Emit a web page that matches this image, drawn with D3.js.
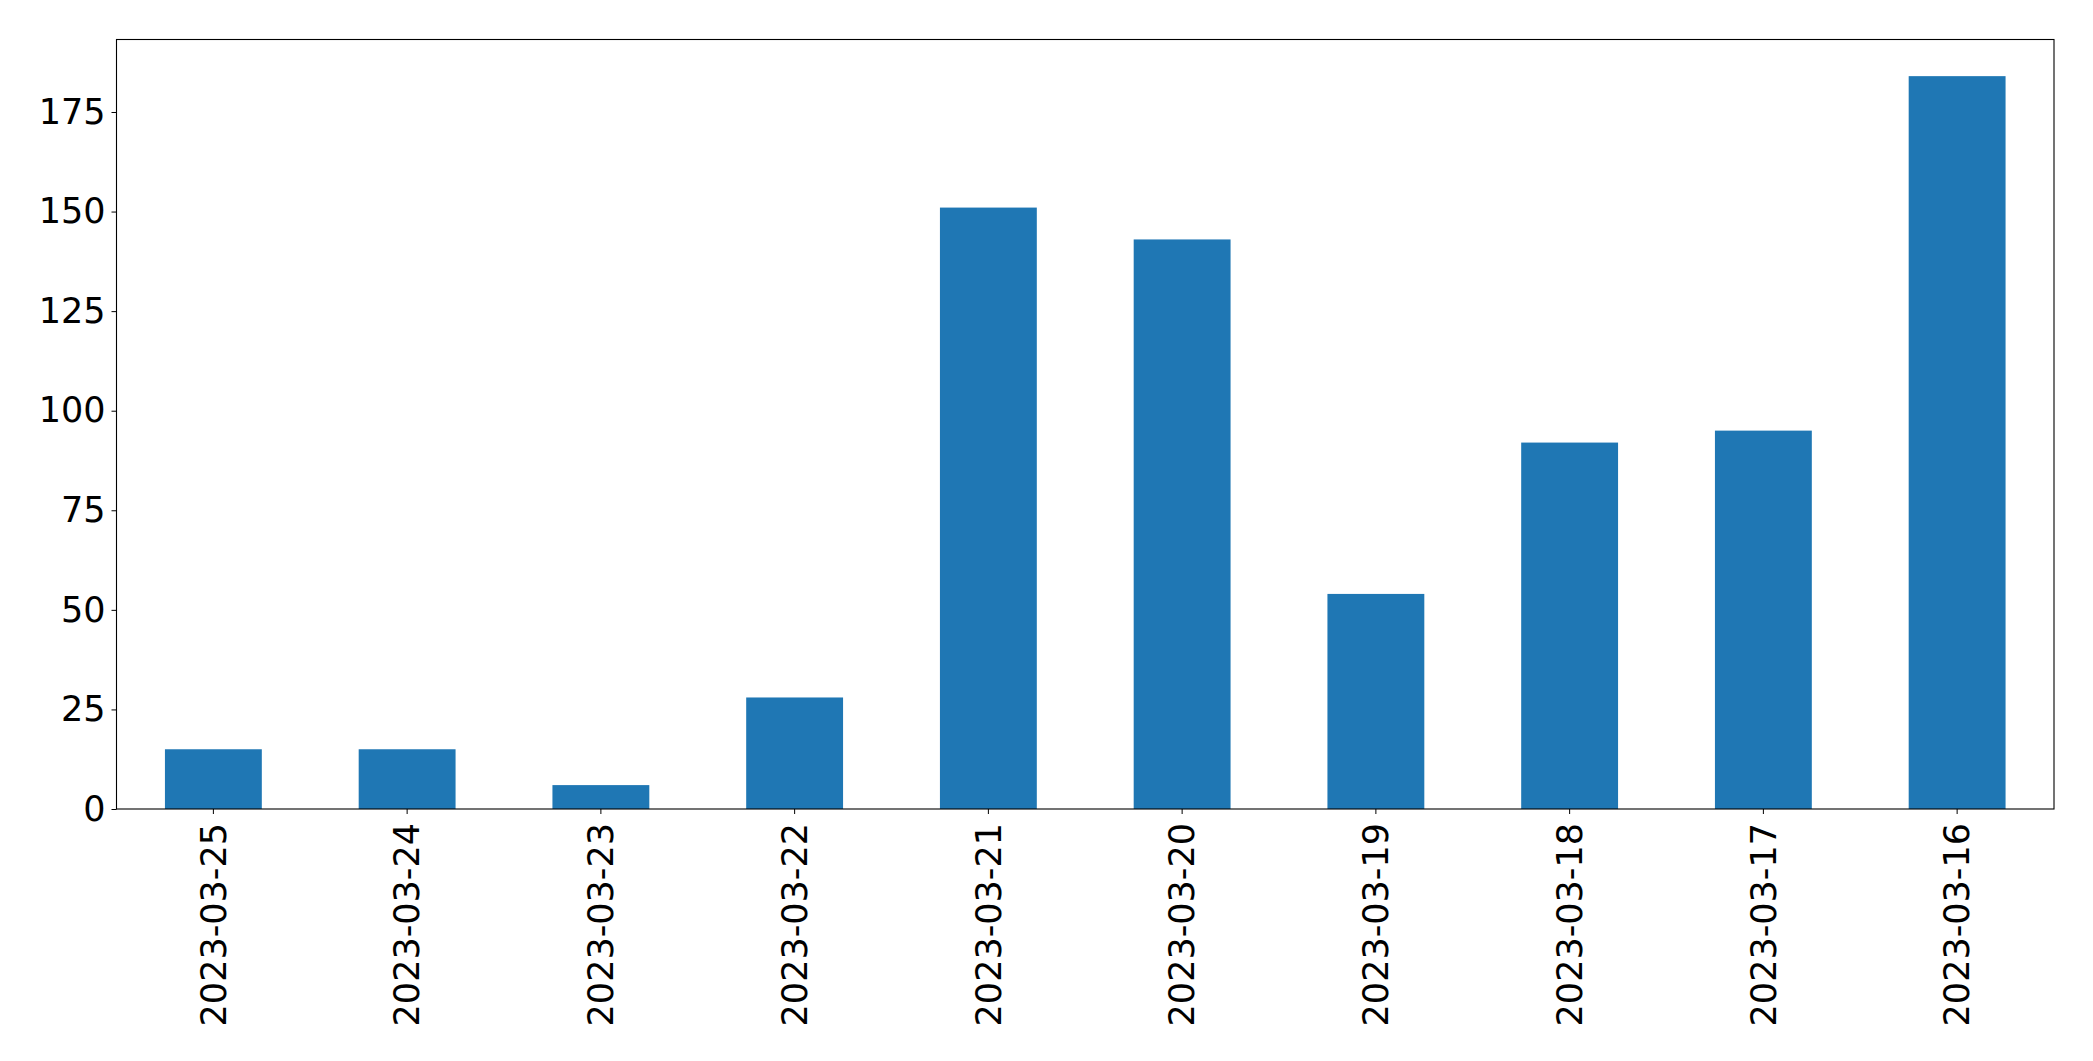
<!DOCTYPE html>
<html>
<head>
<meta charset="utf-8">
<script src="https://cdn.jsdelivr.net/npm/d3@7"></script>
<style>
  html, body { margin: 0; padding: 0; background: #fff; }
  svg { display: block; }
  text { font-family: "DejaVu Sans", sans-serif; }
</style>
</head>
<body>
<script>
const categories = ["2023-03-25","2023-03-24","2023-03-23","2023-03-22","2023-03-21","2023-03-20","2023-03-19","2023-03-18","2023-03-17","2023-03-16"];
const values = [15, 15, 6, 28, 151, 143, 54, 92, 95, 184];
const yTicks = [0, 25, 50, 75, 100, 125, 150, 175];

const W = 2093, H = 1061;
const plotLeft = 116.5, plotRight = 2054, plotTop = 39.5, plotBottom = 809;
const fontSize = 35;

const svg = d3.select("body").append("svg").attr("width", W).attr("height", H);

const x = d3.scaleBand().domain(categories).range([plotLeft, plotRight]).paddingInner(0.5).paddingOuter(0.25);
const y = d3.scaleLinear().domain([0, d3.max(values) * 1.05]).range([plotBottom, plotTop]);

svg.append("g").selectAll("rect").data(values).join("rect")
  .attr("x", (d, i) => x(categories[i]))
  .attr("width", x.bandwidth())
  .attr("y", d => y(d))
  .attr("height", d => y(0) - y(d))
  .attr("fill", "#1f77b4");

// Y axis
const yAxis = svg.append("g").attr("transform", `translate(${plotLeft},0)`)
  .call(d3.axisLeft(y).tickValues(yTicks).tickSize(5).tickPadding(6).tickFormat(d3.format("d")));
yAxis.select(".domain").remove();
yAxis.selectAll("line").attr("stroke", "#000").attr("stroke-width", 1);
yAxis.selectAll("text").attr("font-size", fontSize).attr("fill", "#000").attr("font-family", "DejaVu Sans");

// X axis
const xAxis = svg.append("g").attr("transform", `translate(0,${plotBottom})`)
  .call(d3.axisBottom(x).tickSize(5).tickPadding(6));
xAxis.select(".domain").remove();
xAxis.selectAll("line").attr("stroke", "#000").attr("stroke-width", 1);
xAxis.selectAll("text")
  .attr("font-size", fontSize).attr("fill", "#000").attr("font-family", "DejaVu Sans")
  .attr("transform", "rotate(-90)")
  .attr("text-anchor", "end")
  .attr("x", -14).attr("y", 0).attr("dy", "0.35em");

// Frame
svg.append("rect")
  .attr("x", plotLeft).attr("y", plotTop)
  .attr("width", plotRight - plotLeft).attr("height", plotBottom - plotTop)
  .attr("fill", "none").attr("stroke", "#000").attr("stroke-width", 1.1);
</script>
</body>
</html>
